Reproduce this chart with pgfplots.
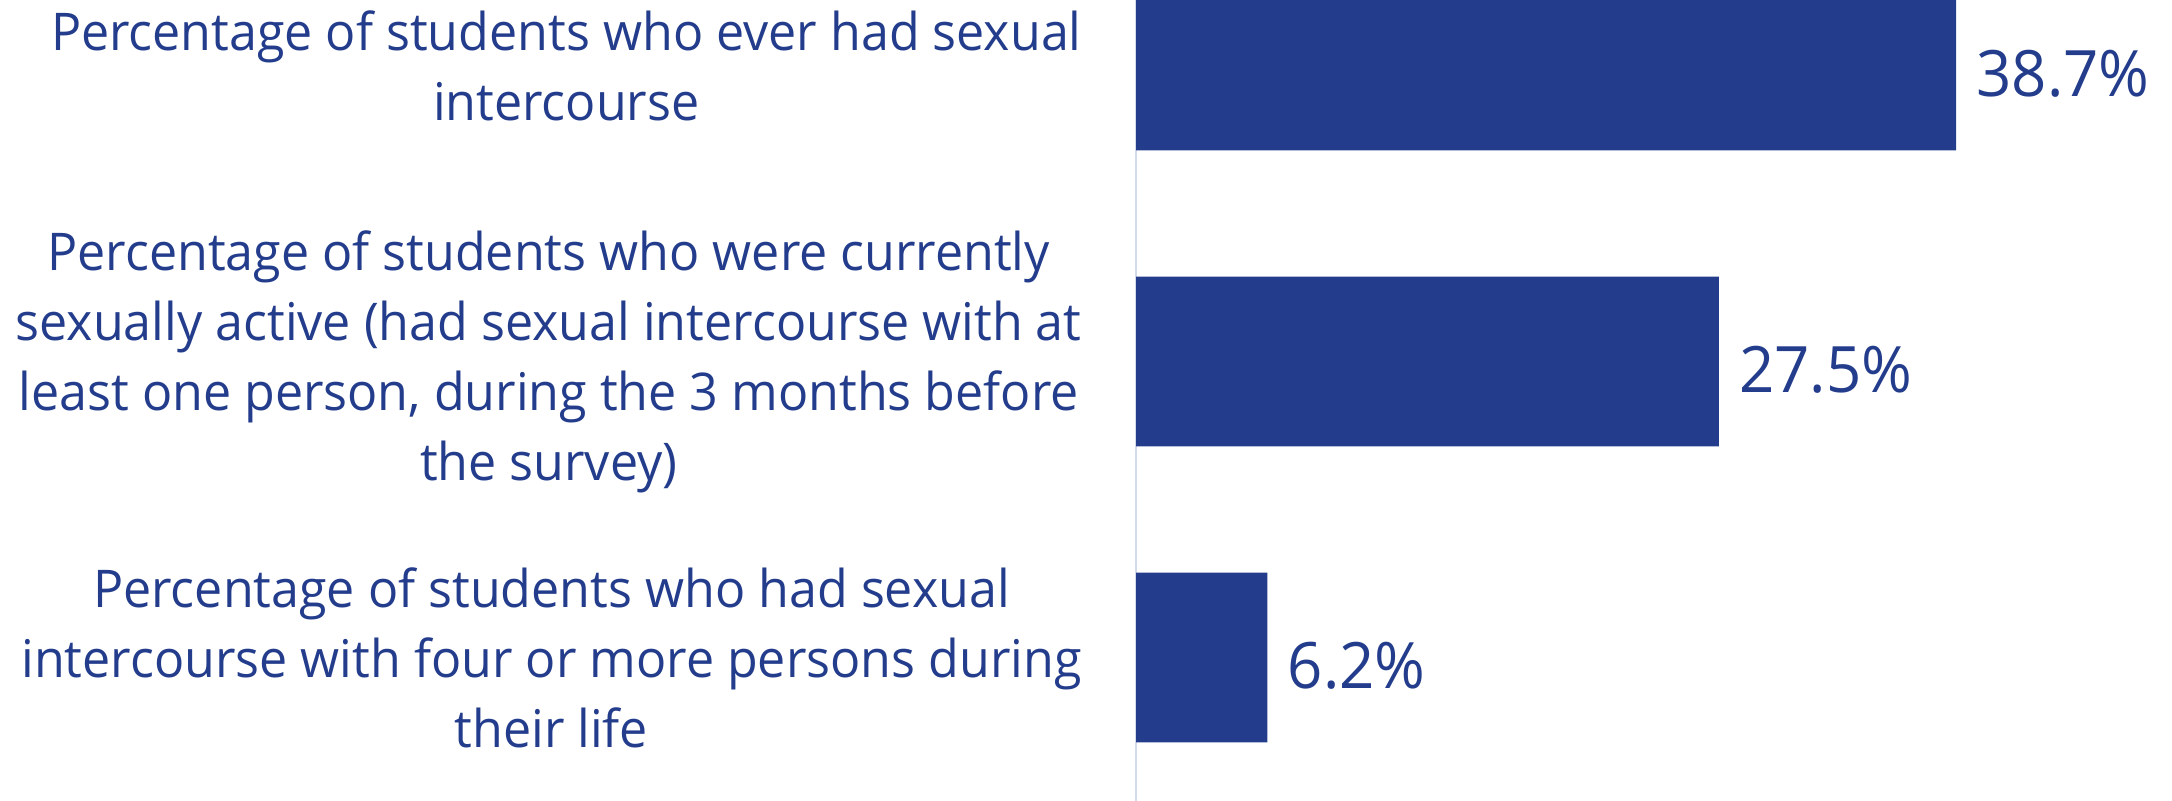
\documentclass[border=0pt]{standalone}
\usepackage{pgfplots}
\pgfplotsset{compat=1.18}
\usepackage{fontspec}
\setmainfont{Open Sans}[FakeStretch=0.965]

\definecolor{barblue}{RGB}{35,61,140}
\definecolor{axisgrey}{RGB}{210,218,238}

\begin{document}
\begin{tikzpicture}
\useasboundingbox (0,0) rectangle (1086pt,400.5pt);
\begin{axis}[
    at={(568pt,0pt)}, anchor=south west,
    scale only axis,
    width=518pt, height=400.5pt,
    xbar, bar width=0.574,
    xmin=0, xmax=48.89,
    ymin=-0.2213, ymax=2.4848,
    y dir=reverse,
    axis x line=none,
    axis y line*=left,
    y axis line style={draw=axisgrey, line width=1pt},
    ytick={0,1,2},
    ytick style={draw=none},
    major tick length=0pt,
    yticklabels={
      {Percentage of students who ever had sexual\\intercourse},
      {Percentage of students who were currently\\sexually active (had sexual intercourse with at\\least one person, during the 3 months before\\the survey)},
      {Percentage of students who had sexual\\intercourse with four or more persons during\\their life}
    },
    yticklabel style={
      font=\fontsize{26}{35}\selectfont, text=barblue,
      align=center, anchor=east, inner sep=0pt, xshift=-27pt
    },
    /pgf/number format/assume math mode=true,
    point meta=x,
    nodes near coords={\pgfmathprintnumber[fixed,fixed zerofill,precision=1]{\pgfplotspointmeta}\%},
    nodes near coords style={
      font=\fontsize{32}{38}\selectfont, text=barblue,
      anchor=west, inner sep=0pt, xshift=10pt, yshift=-4pt
    },
]
\addplot[fill=barblue, draw=none] coordinates {
    (38.7,0)
    (27.5,1)
    (6.2,2)
};
\end{axis}
\end{tikzpicture}
\end{document}
